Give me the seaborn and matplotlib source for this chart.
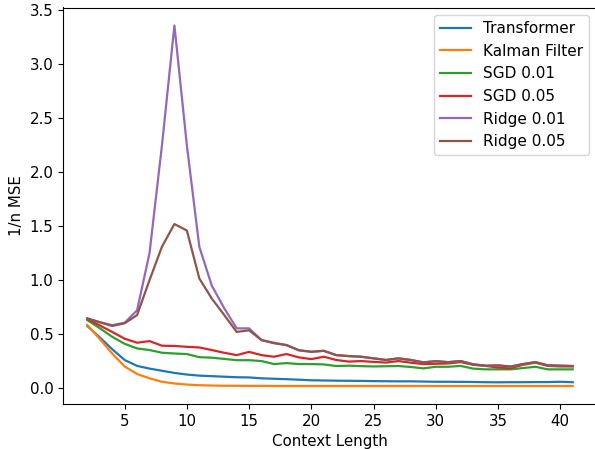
import numpy as np
import pandas as pd
import matplotlib
matplotlib.use("Agg")
import matplotlib.pyplot as plt
import seaborn as sns

context_length = list(range(2, 42))

transformer = [0.575, 0.47, 0.36, 0.26, 0.205, 0.18, 0.16, 0.14, 0.125, 0.115,
               0.11, 0.105, 0.10, 0.098, 0.09, 0.086, 0.082, 0.077, 0.072, 0.07,
               0.068, 0.067, 0.066, 0.064, 0.063, 0.062, 0.062, 0.06, 0.058, 0.058,
               0.057, 0.056, 0.054, 0.053, 0.054, 0.054, 0.055, 0.055, 0.058, 0.054]
kalman = [0.585, 0.455, 0.32, 0.2, 0.13, 0.09, 0.058, 0.042, 0.032, 0.026,
          0.023, 0.021, 0.021, 0.02, 0.02, 0.019, 0.019, 0.019, 0.019, 0.019,
          0.019, 0.019, 0.019, 0.019, 0.019, 0.019, 0.019, 0.019, 0.019, 0.019,
          0.019, 0.019, 0.019, 0.019, 0.019, 0.019, 0.019, 0.019, 0.019, 0.019]
sgd_001 = [0.63, 0.555, 0.475, 0.41, 0.367, 0.352, 0.327, 0.32, 0.315, 0.286,
           0.281, 0.27, 0.258, 0.258, 0.25, 0.222, 0.231, 0.222, 0.222, 0.219,
           0.204, 0.207, 0.203, 0.2, 0.202, 0.204, 0.195, 0.182, 0.197, 0.197,
           0.205, 0.18, 0.173, 0.173, 0.173, 0.185, 0.197, 0.173, 0.173, 0.173]
sgd_005 = [0.64, 0.58, 0.52, 0.457, 0.42, 0.435, 0.392, 0.39, 0.382, 0.376,
           0.352, 0.327, 0.305, 0.335, 0.305, 0.29, 0.315, 0.284, 0.268, 0.29,
           0.26, 0.245, 0.25, 0.242, 0.236, 0.25, 0.235, 0.222, 0.225, 0.228,
           0.24, 0.215, 0.205, 0.19, 0.185, 0.215, 0.235, 0.205, 0.2, 0.2]
ridge_001 = [0.645, 0.61, 0.583, 0.605, 0.72, 1.25, 2.25, 3.36, 2.25, 1.31,
             0.95, 0.74, 0.553, 0.553, 0.444, 0.42, 0.398, 0.35, 0.336, 0.345,
             0.305, 0.296, 0.29, 0.275, 0.26, 0.275, 0.26, 0.238, 0.25, 0.24,
             0.25, 0.22, 0.204, 0.21, 0.197, 0.222, 0.24, 0.21, 0.207, 0.204]
ridge_005 = [0.645, 0.61, 0.575, 0.6, 0.676, 1.0, 1.31, 1.52, 1.46, 1.016,
             0.83, 0.677, 0.52, 0.535, 0.444, 0.415, 0.398, 0.35, 0.336, 0.345,
             0.305, 0.296, 0.29, 0.275, 0.26, 0.275, 0.26, 0.238, 0.248, 0.24,
             0.25, 0.22, 0.208, 0.21, 0.2, 0.222, 0.24, 0.21, 0.207, 0.204]

series = {
    "Transformer": transformer,
    "Kalman Filter": kalman,
    "SGD 0.01": sgd_001,
    "SGD 0.05": sgd_005,
    "Ridge 0.01": ridge_001,
    "Ridge 0.05": ridge_005,
}

rows = []
for name, vals in series.items():
    for x, v in zip(context_length, vals):
        rows.append({"Context Length": x, "1/n MSE": v, "method": name})
df = pd.DataFrame(rows)

plt.rcParams["font.size"] = 10.8

fig = plt.figure(figsize=(5.95, 4.49), dpi=100)
ax = fig.add_axes([63 / 595, 1 - 404 / 449, (597 - 63) / 595, (404 - 7.5) / 449])

colors = plt.rcParams["axes.prop_cycle"].by_key()["color"]
for i, name in enumerate(series):
    sub = df[df["method"] == name]
    sns.lineplot(data=sub, x="Context Length", y="1/n MSE", ax=ax,
                 color=colors[i], label=name, linewidth=1.6)

ax.spines["right"].set_visible(False)
ax.set_xlabel("Context Length")
ax.set_ylabel("1/n MSE")
ax.legend(loc="upper right", fontsize=11, borderaxespad=0,
          bbox_to_anchor=(589 / 595, 1 - 15 / 449), bbox_transform=fig.transFigure)

fig.savefig("out.png", dpi=100)
